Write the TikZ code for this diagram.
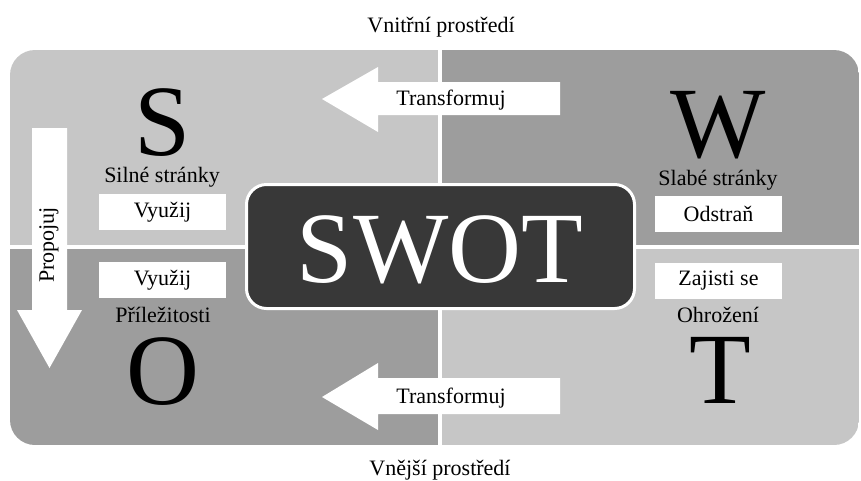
\documentclass[tikz,border=0pt]{standalone}
\usepackage{fontspec}
\setmainfont{Liberation Serif}
\definecolor{quadlight}{HTML}{C6C6C6}
\definecolor{quaddark}{HTML}{9D9D9D}
\definecolor{corefill}{HTML}{383838}
\begin{document}
\begin{tikzpicture}[x=1pt,y=-1pt,
  txt/.style={font=\fontsize{22}{26}\selectfont, inner sep=0pt},
  bigletter/.style={font=\fontsize{101}{110}\selectfont, inner sep=0pt, anchor=base, text depth=0pt},
  tagbox/.style={txt, fill=white, minimum width=127pt, minimum height=36pt},
  whitearrow/.style={fill=white}]
\useasboundingbox (0,0) rectangle (861,480);

% four quadrants inside one rounded outline
\begin{scope}
  \clip[rounded corners=25pt] (10,50) rectangle (859,445);
  \fill[quadlight] (10,50) rectangle (438,245);
  \fill[quaddark]  (442,50) rectangle (859,245);
  \fill[quaddark]  (10,249) rectangle (438,445);
  \fill[quadlight] (442,249) rectangle (859,445);
\end{scope}

% arrows
\fill[whitearrow] (322,99) -- (378,67) -- (378,82) -- (560,82) -- (560,115) -- (378,115) -- (378,132) -- cycle;
\fill[whitearrow] (322,397) -- (378,363) -- (378,378) -- (560,378) -- (560,414) -- (378,414) -- (378,430) -- cycle;
\fill[whitearrow] (32,128) -- (67,128) -- (67,310) -- (82,310) -- (49.5,368) -- (17,310) -- (32,310) -- cycle;

\node[txt, anchor=base] (tr1) at (451,105) {Transformuj};
\node[txt, anchor=base] (tr2) at (451,403) {Transformuj};
\node[txt, rotate=90] (prop) at (49,245) {Propojuj};

% central box
\draw[fill=corefill, draw=white, line width=3pt, rounded corners=20pt] (246.5,184.5) rectangle (634.5,308.5);
\node[bigletter, text=white] (swot) at (440,282) {SWOT};

% quadrant letters
\node[bigletter] (S) at (163,155) {S};
\node[bigletter] (W) at (718,157) {W};
\node[bigletter] (O) at (163,404) {O};
\node[bigletter] (T) at (720,403) {T};

% quadrant captions
\node[txt, anchor=base] (sl) at (162,182) {Silné stránky};
\node[txt, anchor=base] (wl) at (718,185) {Slabé stránky};
\node[txt, anchor=base] (ol) at (163,322) {Příležitosti};
\node[txt, anchor=base] (tl) at (718,322) {Ohrožení};

% action tags
\node[tagbox] (sa) at (162.5,212) {Využij};
\node[tagbox] (oa) at (162.5,280) {Využij};
\node[tagbox] (wa) at (718.5,214) {Odstraň};
\node[tagbox] (ta) at (718.5,281) {Zajisti se};

% environment labels
\node[txt, anchor=base] (inner) at (441,32) {Vnitřní prostředí};
\node[txt, anchor=base] (outer) at (440,475) {Vnější prostředí};
\end{tikzpicture}
\end{document}
